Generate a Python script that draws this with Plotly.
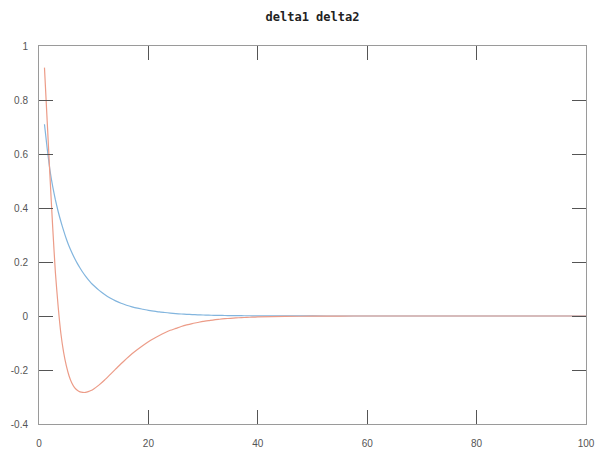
import plotly.graph_objects as go

# ---- data ----
x_vals = [1, 1.5, 2, 2.5, 3, 3.5, 4, 4.5, 5, 5.5, 6, 6.5, 7, 7.5, 8, 8.5, 9, 9.5, 10] + \
         list(range(11, 41)) + [45, 50, 55, 60, 65, 70, 75, 80, 85, 90, 95, 100]

delta1 = [0.71, 0.62, 0.54, 0.48, 0.43, 0.387, 0.35, 0.316, 0.285, 0.258,
          0.235, 0.214, 0.195, 0.178, 0.162, 0.148, 0.135, 0.123, 0.113,
          0.095, 0.080, 0.067, 0.056, 0.047, 0.040, 0.034, 0.029, 0.025, 0.021,
          0.018, 0.015, 0.013, 0.011, 0.009, 0.0075, 0.0063, 0.0053, 0.0044, 0.0037,
          0.0031, 0.0026, 0.0022, 0.0018, 0.0015, 0.0013, 0.0011, 0.0009, 0.0008, 0.0006,
          0.0003, 0.0001, 0.0, 0.0, 0.0, 0.0, 0.0, 0.0, 0.0, 0.0, 0.0, 0.0]

delta2 = [0.92, 0.72, 0.52, 0.33, 0.16, 0.035, -0.065, -0.135, -0.185, -0.222,
          -0.248, -0.265, -0.275, -0.281, -0.283, -0.283, -0.28, -0.276, -0.27,
          -0.255, -0.237, -0.217, -0.197, -0.177, -0.158, -0.14, -0.124, -0.109, -0.095,
          -0.083, -0.072, -0.062, -0.053, -0.046, -0.039, -0.033, -0.028, -0.024, -0.020,
          -0.017, -0.014, -0.012, -0.010, -0.0085, -0.0071, -0.006, -0.005, -0.0042, -0.0035,
          -0.0015, -0.0006, -0.0002, 0.0, 0.0, 0.0, 0.0, 0.0, 0.0, 0.0, 0.0, 0.0]

x_ticks = [0, 20, 40, 60, 80, 100]
y_ticks = [-0.4, -0.2, 0, 0.2, 0.4, 0.6, 0.8, 1]
y_tick_text = ["-0.4", "-0.2", "0", "0.2", "0.4", "0.6", "0.8", "1"]
title_text = "delta1 delta2"

fig = go.Figure()
fig.add_trace(go.Scatter(x=x_vals, y=delta1, mode="lines",
                         line=dict(color="#82b5de", width=1.2, shape="spline", smoothing=0.5),
                         name="delta1", showlegend=False))
fig.add_trace(go.Scatter(x=x_vals, y=delta2, mode="lines",
                         line=dict(color="#ec9c88", width=1.2, shape="spline", smoothing=0.5),
                         name="delta2", showlegend=False))

axis_common = dict(
    showgrid=False, zeroline=False, showline=True, linecolor="#9a9a9a", linewidth=1,
    mirror="ticks", ticks="inside", ticklen=14, tickwidth=1.3, tickcolor="#555555",
    automargin=False,
    tickfont=dict(family="Liberation Sans, Arial, sans-serif", size=10, color="#555555"),
)

fig.update_xaxes(range=[0, 100], tickvals=x_ticks, ticktext=[str(v) for v in x_ticks],
                 ticklabelstandoff=10, **axis_common)
fig.update_yaxes(range=[-0.4, 1], tickvals=y_ticks, ticktext=y_tick_text,
                 ticklabelstandoff=8, **axis_common)

fig.update_layout(
    width=595, height=450,
    margin=dict(l=39, r=9, t=46, b=26, autoexpand=False),
    paper_bgcolor="white", plot_bgcolor="white",
    title=dict(text="<b>" + title_text + "</b>", x=(39 + 586) / 2 / 595, xanchor="center",
               y=1 - 17 / 450, yanchor="middle",
               font=dict(family="DejaVu Sans Mono, monospace", size=12, color="#222222")),
)

fig.write_html("out.html", config={"displayModeBar": False},
               post_script="document.body.style.margin='0';document.body.style.overflow='hidden';")
